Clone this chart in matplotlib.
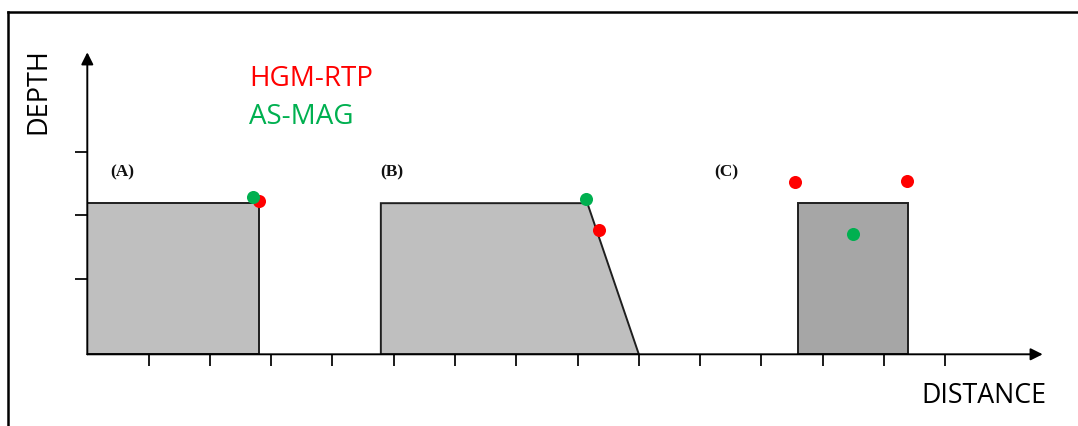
import matplotlib
matplotlib.use("Agg")
import matplotlib.pyplot as plt
from matplotlib.patches import Polygon
from matplotlib.lines import Line2D

# ---------------- data (schematic units) ----------------
x_ticks = list(range(1, 15))
y_ticks = [1.19, 2.19, 3.19]
x_max = 15.59
y_max = 4.756

# bodies: (A) vertical contact, (B) dipping contact, (C) thin dyke-like body
body_a_x = [0.0, 0.0, 2.80, 2.80]
body_a_y = [0.0, 2.38, 2.38, 0.0]
body_b_x = [4.79, 4.79, 8.16, 9.0]
body_b_y = [0.0, 2.38, 2.38, 0.0]
body_c_x = [11.59, 11.59, 13.40, 13.40]
body_c_y = [0.0, 2.38, 2.38, 0.0]

# estimated source positions
hgm_x = [2.80, 8.35, 11.54, 13.38]
hgm_y = [2.42, 1.96, 2.71, 2.73]
asmag_x = [2.70, 8.13, 12.49]
asmag_y = [2.47, 2.44, 1.89]

panel_labels = ["(A)", "(B)", "(C)"]
panel_x = [0.57, 4.97, 10.43]
panel_y = [2.86, 2.87, 2.87]

legend_names = ["HGM-RTP", "AS-MAG"]
legend_colors = ["#ff0000", "#00b050"]
legend_y = [4.225, 3.63]
legend_x = 2.64

W, H = 1078, 426
fig = plt.figure(figsize=(W / 100, H / 100), dpi=100)
fig.patch.set_facecolor("white")

ax = fig.add_axes([87.3 / W, (H - 354.3) / H, (1042.7 - 87.3) / W, (354.3 - 52.3) / H])
ax.set_xlim(0, x_max)
ax.set_ylim(0, y_max)
ax.patch.set_alpha(0)
for s in ax.spines.values():
    s.set_visible(False)

ax.set_xticks(x_ticks)
ax.set_yticks(y_ticks)
ax.tick_params(axis="x", direction="out", length=8.9, width=1.4, colors="#1a1a1a",
               labelbottom=False)
ax.tick_params(axis="y", direction="out", length=8.6, width=1.4, colors="#1a1a1a",
               labelleft=False)

light = "#bfbfbf"
dark = "#a6a6a6"
edge = "#1f1f1f"
for xs, ys, fc in [(body_a_x, body_a_y, light), (body_b_x, body_b_y, light),
                   (body_c_x, body_c_y, dark)]:
    ax.add_patch(Polygon(list(zip(xs, ys)), closed=True, facecolor=fc,
                         edgecolor=edge, linewidth=1.4, zorder=2))

# axes arrows
arrow_kw = dict(arrowstyle="-|>", mutation_scale=18, lw=1.4, color="black",
                shrinkA=0, shrinkB=0)
ax.annotate("", xy=(x_max, 0), xytext=(0, 0), arrowprops=arrow_kw,
            annotation_clip=False, zorder=4)
ax.annotate("", xy=(0, y_max), xytext=(0, 0), arrowprops=arrow_kw,
            annotation_clip=False, zorder=4)

ax.plot(hgm_x, hgm_y, "o", color="#ff0000", markersize=9.4, markeredgewidth=0,
        zorder=5, clip_on=False)
ax.plot(asmag_x, asmag_y, "o", color="#00b050", markersize=9.4, markeredgewidth=0,
        zorder=6, clip_on=False)

for lab, px, py in zip(panel_labels, panel_x, panel_y):
    ax.text(px, py, lab, ha="center", va="center", fontsize=12.5, fontweight="bold",
            family="Liberation Serif", color="#111111")

for name, col, ly in zip(legend_names, legend_colors, legend_y):
    ax.text(legend_x, ly, name, ha="left", va="baseline", fontsize=20, color=col,
            family="Open Sans")

fig.text(1046 / W, (H - 402.7) / H, "DISTANCE", ha="right", va="baseline",
         fontsize=19.3, color="black", family="Open Sans")
fig.text(38.8 / W, (H - 91.4) / H, "DEPTH", ha="center", va="center", rotation=90,
         fontsize=19.5, color="black", family="Open Sans")

# outer frame (cropped at right and bottom)
fig.add_artist(Line2D([8.3 / W, 8.3 / W], [0, (H - 12.2) / H], transform=fig.transFigure,
                      color="black", lw=1.8, solid_capstyle="projecting"))
fig.add_artist(Line2D([8.3 / W, 1.0], [(H - 12.2) / H, (H - 12.2) / H],
                      transform=fig.transFigure, color="black", lw=1.8,
                      solid_capstyle="projecting"))

fig.savefig("out.png", dpi=100)
